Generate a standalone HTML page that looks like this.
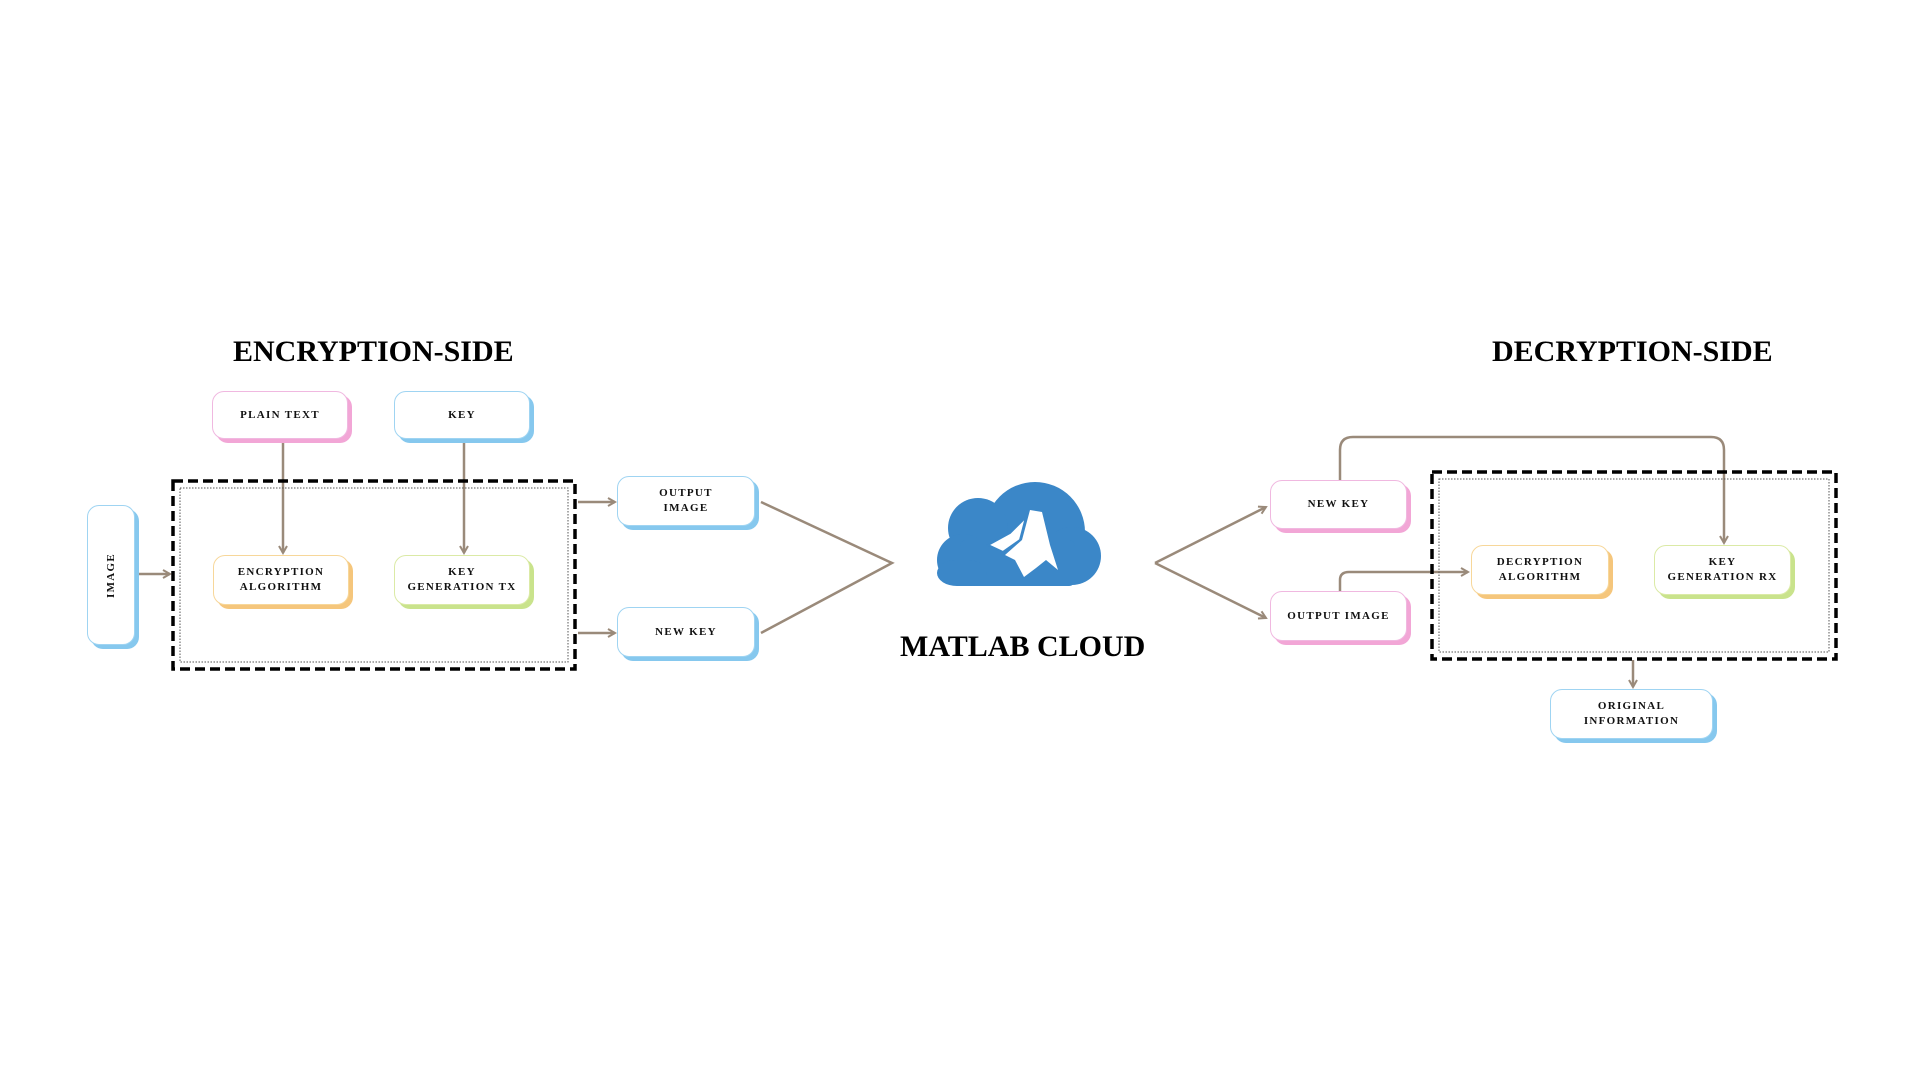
<!DOCTYPE html>
<html><head><meta charset="utf-8"><style>
body{margin:0;width:1920px;height:1080px;background:#fff;overflow:hidden;position:relative;font-family:"Liberation Serif",serif}
.t{position:absolute;font-weight:bold;font-size:30px;color:#000;white-space:nowrap}
.b{position:absolute;box-sizing:border-box;background:#fff;border:1.5px solid;border-radius:12px;display:flex;align-items:center;justify-content:center;text-align:center;font-weight:bold;font-size:11px;letter-spacing:1.3px;line-height:15px;color:#111}
.pk{border-color:#f0b8e0;box-shadow:4px 4px 0 #f2a6d6}
.bl{border-color:#9fd4f2;box-shadow:4px 4px 0 #86c8ee}
.or{border-color:#f7d79a;box-shadow:4px 4px 0 #f5c67c}
.gr{border-color:#dbeaa6;box-shadow:4px 4px 0 #c9e38c}
</style></head><body>
<div class="t" style="left:233px;top:335px">ENCRYPTION-SIDE</div>
<div class="t" style="left:1492px;top:335px">DECRYPTION-SIDE</div>
<div class="t" style="left:900px;top:630px;font-size:30px">MATLAB CLOUD</div>

<svg width="1920" height="1080" style="position:absolute;left:0;top:0">
<defs><marker id="a" markerWidth="10" markerHeight="10" refX="8" refY="5" orient="auto" markerUnits="userSpaceOnUse"><path d="M1,1 L8,5 L1,9" fill="none" stroke="#9a8a7a" stroke-width="2"/></marker></defs>
<g fill="none" stroke="#9a8a7a" stroke-width="2.5">
<line x1="283" y1="443" x2="283" y2="553" marker-end="url(#a)"/>
<line x1="464" y1="443" x2="464" y2="553" marker-end="url(#a)"/>
<line x1="139" y1="574" x2="170" y2="574" marker-end="url(#a)"/>
<line x1="578" y1="502" x2="615" y2="502" marker-end="url(#a)"/>
<line x1="578" y1="633" x2="615" y2="633" marker-end="url(#a)"/>
<polyline points="761,502 892,563 761,633"/>
<line x1="1155" y1="563" x2="1266" y2="507" marker-end="url(#a)"/>
<line x1="1155" y1="563" x2="1266" y2="618" marker-end="url(#a)"/>
<path d="M1340,480 V450 Q1340,437 1353,437 H1711 Q1724,437 1724,450 V543" marker-end="url(#a)"/>
<path d="M1340,591 V580 Q1340,572 1349,572 H1468" marker-end="url(#a)"/>
<line x1="1633" y1="660" x2="1633" y2="687" marker-end="url(#a)"/>
</g>
<rect x="173" y="481" width="402" height="188" fill="none" stroke="#000" stroke-width="3.5" stroke-dasharray="10,5"/>
<rect x="180" y="488" width="388" height="174" fill="none" stroke="#555" stroke-width="1" stroke-dasharray="1.5,1.5"/>
<rect x="1432" y="472" width="404" height="187" fill="none" stroke="#000" stroke-width="3.5" stroke-dasharray="10,5"/>
<rect x="1439" y="479" width="390" height="173" fill="none" stroke="#555" stroke-width="1" stroke-dasharray="1.5,1.5"/>
<g fill="#3b87c8">
<circle cx="1035" cy="532" r="50"/>
<circle cx="978" cy="528" r="30"/>
<circle cx="963" cy="560" r="26"/>
<circle cx="1072" cy="556" r="29"/>
<rect x="960" y="540" width="115" height="46" rx="6"/>
<rect x="937" y="560" width="50" height="26" rx="20"/>
</g>
<path d="M1030,510 L1042,512 L1050,545 L1058,570 L1046,560 L1036,568 L1024,577 L1015,560 L1005,555 L1022,540 Z" fill="#fff"/>
<path d="M1026,517 L1020,540 L1003,552 L988,545 L1010,533 Z" fill="#fff" stroke="#3b87c8" stroke-width="2"/>
</svg>

<div class="b pk" style="left:212px;top:391px;width:136px;height:48px">PLAIN TEXT</div>
<div class="b bl" style="left:394px;top:391px;width:136px;height:48px">KEY</div>
<div class="b bl" style="left:87px;top:505px;width:48px;height:140px"><span style="transform:rotate(-90deg);white-space:nowrap">IMAGE</span></div>
<div class="b or" style="left:213px;top:555px;width:136px;height:50px">ENCRYPTION<br>ALGORITHM</div>
<div class="b gr" style="left:394px;top:555px;width:136px;height:50px">KEY<br>GENERATION TX</div>
<div class="b bl" style="left:617px;top:476px;width:138px;height:50px">OUTPUT<br>IMAGE</div>
<div class="b bl" style="left:617px;top:607px;width:138px;height:50px">NEW KEY</div>
<div class="b pk" style="left:1270px;top:480px;width:137px;height:49px">NEW KEY</div>
<div class="b pk" style="left:1270px;top:591px;width:137px;height:50px">OUTPUT IMAGE</div>
<div class="b or" style="left:1471px;top:545px;width:138px;height:50px">DECRYPTION<br>ALGORITHM</div>
<div class="b gr" style="left:1654px;top:545px;width:137px;height:50px">KEY<br>GENERATION RX</div>
<div class="b bl" style="left:1550px;top:689px;width:163px;height:50px">ORIGINAL<br>INFORMATION</div>
</body></html>
